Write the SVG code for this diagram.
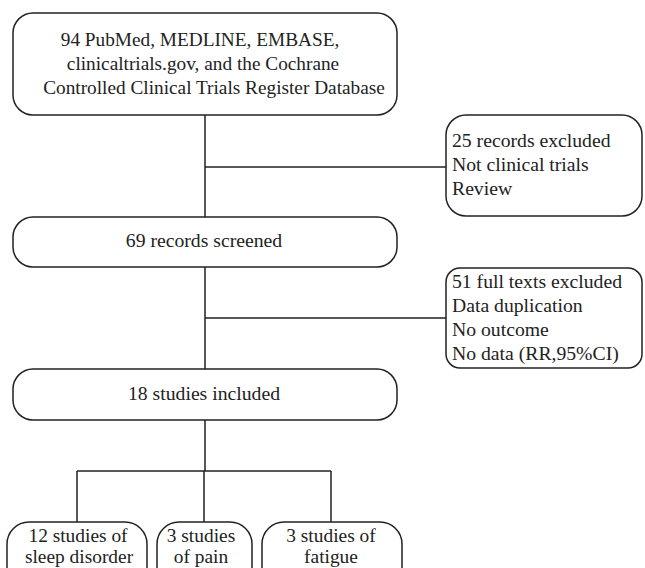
<svg xmlns="http://www.w3.org/2000/svg" width="645" height="568" viewBox="0 0 645 568" font-family="Liberation Serif, Times New Roman, serif">
<style>
.box{fill:#fff;stroke:#222;stroke-width:1.5}
.ln{fill:none;stroke:#222;stroke-width:1.5}
text{font-size:19.7px;fill:#222}
.t{font-size:19.3px}
.s{font-size:19.4px}
.c{text-anchor:middle}
</style>
<rect width="645" height="568" fill="#fff"/>
<g id="connectors">
<path class="ln" d="M205 115V217M205 167H446M205 267V369M205 318H446M205 420V471M77 471H331M77 471V522M204 471V522M331 471V522"/>
</g>
<g id="n1">
<rect class="box" x="13" y="13" width="384" height="102" rx="20"/>
<text class="c t" x="200" y="46">94 PubMed, MEDLINE, EMBASE,</text>
<text class="c t" x="203" y="70">clinicaltrials.gov, and the Cochrane</text>
<text class="c t" x="214" y="94">Controlled Clinical Trials Register Database</text>
</g>
<g id="n2">
<rect class="box" x="446" y="115" width="196" height="101" rx="20"/>
<text x="452" y="147">25 records excluded</text>
<text x="452" y="171">Not clinical trials</text>
<text x="452" y="195">Review</text>
</g>
<g id="n3">
<rect class="box" x="13" y="217" width="384" height="50" rx="20"/>
<text class="c" x="204" y="247">69 records screened</text>
</g>
<g id="n4">
<rect class="box" x="446" y="268" width="196" height="100" rx="14"/>
<text x="452" y="288">51 full texts excluded</text>
<text x="452" y="312">Data duplication</text>
<text x="452" y="336">No outcome</text>
<text x="452" y="360">No data (RR,95%CI)</text>
</g>
<g id="n5">
<rect class="box" x="13" y="369" width="384" height="51" rx="20"/>
<text class="c" x="204" y="400">18 studies included</text>
</g>
<g id="n6">
<rect class="box" x="7" y="522" width="140" height="70" rx="22"/>
<text class="c s" x="78" y="542">12 studies of</text>
<text class="c s" x="79" y="563">sleep disorder</text>
</g>
<g id="n7">
<rect class="box" x="157" y="522" width="95" height="70" rx="22"/>
<text class="c s" x="201" y="542">3 studies</text>
<text class="c s" x="201" y="563">of pain</text>
</g>
<g id="n8">
<rect class="box" x="262" y="522" width="140" height="70" rx="22"/>
<text class="c s" x="331" y="542">3 studies of</text>
<text class="c s" x="331" y="563">fatigue</text>
</g>
</svg>
